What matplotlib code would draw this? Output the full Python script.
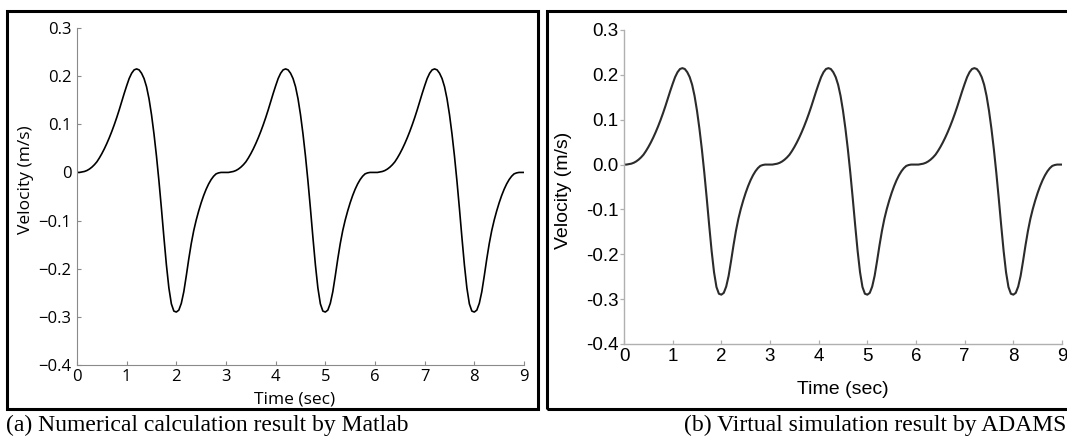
import numpy as np
import matplotlib
matplotlib.use("Agg")
import matplotlib.pyplot as plt
from matplotlib.patches import Rectangle

# ---------------- data ----------------
# time samples every 0.05 s from 0 to 9 s
time_sec = np.linspace(0.0, 9.0, 181)

cycle_1 = [0.000, 0.000, 0.001, 0.002, 0.004, 0.007, 0.011, 0.016, 0.022, 0.030,
           0.039, 0.049, 0.060, 0.072, 0.085, 0.099, 0.114, 0.130, 0.147, 0.164,
           0.180, 0.195, 0.206, 0.213, 0.215, 0.213, 0.206, 0.195, 0.178, 0.153,
           0.120, 0.080, 0.034, -0.018, -0.075, -0.135, -0.192, -0.240, -0.273, -0.288,
           -0.290, -0.286, -0.272, -0.248, -0.215, -0.180, -0.148, -0.121, -0.099, -0.080,
           -0.063, -0.048, -0.035, -0.024, -0.015, -0.008, -0.003, -0.001, 0.000, 0.000]
cycle_2 = [0.000, 0.000, 0.001, 0.002, 0.004, 0.007, 0.011, 0.016, 0.022, 0.030,
           0.039, 0.049, 0.060, 0.072, 0.085, 0.099, 0.114, 0.130, 0.147, 0.164,
           0.180, 0.195, 0.206, 0.213, 0.215, 0.213, 0.206, 0.195, 0.178, 0.153,
           0.120, 0.080, 0.034, -0.018, -0.075, -0.135, -0.192, -0.240, -0.273, -0.288,
           -0.290, -0.286, -0.272, -0.248, -0.215, -0.180, -0.148, -0.121, -0.099, -0.080,
           -0.063, -0.048, -0.035, -0.024, -0.015, -0.008, -0.003, -0.001, 0.000, 0.000]
cycle_3 = [0.000, 0.000, 0.001, 0.002, 0.004, 0.007, 0.011, 0.016, 0.022, 0.030,
           0.039, 0.049, 0.060, 0.072, 0.085, 0.099, 0.114, 0.130, 0.147, 0.164,
           0.180, 0.195, 0.206, 0.213, 0.215, 0.213, 0.206, 0.195, 0.178, 0.153,
           0.120, 0.080, 0.034, -0.018, -0.075, -0.135, -0.192, -0.240, -0.273, -0.288,
           -0.290, -0.286, -0.272, -0.248, -0.215, -0.180, -0.148, -0.121, -0.099, -0.080,
           -0.063, -0.048, -0.035, -0.024, -0.015, -0.008, -0.003, -0.001, 0.000, 0.000]
end_value = [0.000]

velocity_matlab = cycle_1 + cycle_2 + cycle_3 + end_value
velocity_adams = cycle_1 + cycle_2 + cycle_3 + end_value

x_ticks = [0, 1, 2, 3, 4, 5, 6, 7, 8, 9]
y_ticks = [-0.4, -0.3, -0.2, -0.1, 0.0, 0.1, 0.2, 0.3]
y_labels_matlab = ["\u22120.4", "\u22120.3", "\u22120.2", "\u22120.1", "0", "0.1", "0.2", "0.3"]
y_labels_adams = ["-0.4", "-0.3", "-0.2", "-0.1", "0.0", "0.1", "0.2", "0.3"]

x_label = "Time (sec)"
y_label = "Velocity (m/s)"
caption_a = "(a) Numerical calculation result by Matlab"
caption_b = "(b) Virtual simulation result by ADAMS"

# ---------------- figure ----------------
W, H = 1067, 437
fig = plt.figure(figsize=(W / 100, H / 100), dpi=100)
fig.patch.set_facecolor("white")


def px_axes(x0, x1, ytop, ybot):
    return [x0 / W, (H - ybot) / H, (x1 - x0) / W, (ybot - ytop) / H]


def px(x, y):
    return x / W, (H - y) / H


# panel frames
for (x0, x1) in [(7, 538), (547, 1080)]:
    fig.add_artist(Rectangle((x0 / W, (H - 409) / H), (x1 - x0) / W, (409 - 11) / H,
                             transform=fig.transFigure, fill=False, edgecolor="black",
                             linewidth=2.2, clip_on=False))

# ---- left panel (Matlab style) ----
fa = "Open Sans"
ax1 = fig.add_axes(px_axes(77, 524, 28, 365))
ax1.plot(time_sec, velocity_matlab, color="black", linewidth=1.2)
ax1.set_xlim(0, 9)
ax1.set_ylim(-0.4, 0.3)
ax1.set_xticks(x_ticks)
ax1.set_xticklabels([str(v) for v in x_ticks], fontfamily=fa, fontsize=12)
ax1.set_yticks(y_ticks)
ax1.set_yticklabels(y_labels_matlab, fontfamily=fa, fontsize=12)
for s in ["top", "right"]:
    ax1.spines[s].set_visible(False)
for s in ["left", "bottom"]:
    ax1.spines[s].set_color("#8a8a8a")
    ax1.spines[s].set_linewidth(0.8)
ax1.tick_params(direction="in", length=3, width=0.8, color="#8a8a8a")
ax1.tick_params(axis="y", pad=4)
ax1.tick_params(axis="x", pad=3)
ax1.set_facecolor("white")
fig.text(*px(26, 180), y_label, rotation=90, ha="center", va="center",
         fontfamily=fa, fontsize=12.5)
fig.text(*px(295, 400), x_label, ha="center", va="center", fontfamily=fa, fontsize=12.5)

# ---- right panel (ADAMS style) ----
fb = "Liberation Sans"
ax2 = fig.add_axes(px_axes(624, 1062, 30, 344))
ax2.plot(time_sec, velocity_adams, color="#2b2b2b", linewidth=1.5)
ax2.set_xlim(0, 9)
ax2.set_ylim(-0.4, 0.3)
ax2.set_xticks(x_ticks)
ax2.set_xticklabels([str(v) for v in x_ticks], fontfamily=fb, fontsize=13.5)
ax2.set_yticks(y_ticks)
ax2.set_yticklabels(y_labels_adams, fontfamily=fb, fontsize=13.5)
for s in ["top", "right"]:
    ax2.spines[s].set_visible(False)
for s in ["left", "bottom"]:
    ax2.spines[s].set_color("#b0b0b0")
    ax2.spines[s].set_linewidth(1.0)
ax2.tick_params(axis="y", direction="out", length=3, width=0.9, color="#b0b0b0", pad=1)
ax2.tick_params(axis="x", direction="in", length=3, width=0.9, color="#b0b0b0", pad=3)
ax2.set_facecolor("white")
fig.text(*px(563, 190), y_label, rotation=90, ha="center", va="center",
         fontfamily=fb, fontsize=14)
fig.text(*px(843, 389), x_label, ha="center", va="center", fontfamily=fb, fontsize=14)

# ---- captions ----
fig.text(*px(6, 425), caption_a, ha="left", va="center",
         fontfamily="Liberation Serif", fontsize=17)
fig.text(*px(684, 425), caption_b, ha="left", va="center",
         fontfamily="Liberation Serif", fontsize=17)

fig.savefig("out.png", dpi=100, facecolor="white")
